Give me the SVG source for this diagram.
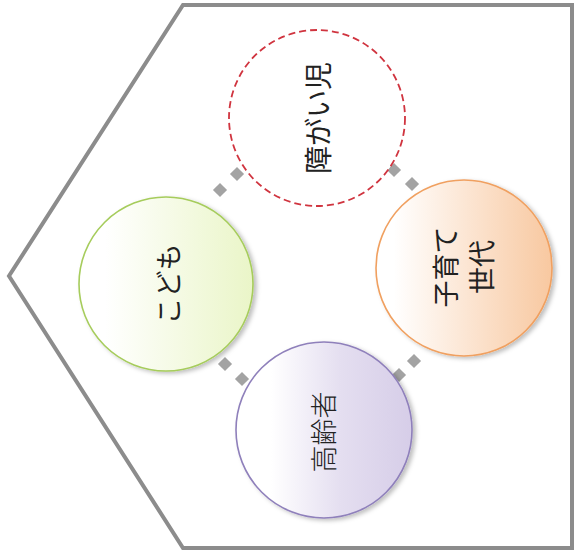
<svg xmlns="http://www.w3.org/2000/svg" width="577" height="556" viewBox="0 0 577 556">
<style>
  .lbl { font-family: "Noto Sans CJK JP", "Noto Sans", sans-serif; fill: #222; text-anchor: middle; dominant-baseline: central; }
  .dot { fill: #a3a3a3; }
  .ring { stroke-width: 1.6; filter: url(#sh); }
</style>
<defs>
  <filter id="sh" x="-20%" y="-20%" width="140%" height="140%">
    <feDropShadow dx="3" dy="2" stdDeviation="2" flood-color="#000" flood-opacity="0.25"/>
  </filter>
  <linearGradient id="gGreen" x1="0" y1="0" x2="1" y2="0">
    <stop offset="0.15" stop-color="#ffffff"/>
    <stop offset="1" stop-color="#eaf5c8"/>
  </linearGradient>
  <linearGradient id="gOrange" x1="0" y1="0" x2="1" y2="0">
    <stop offset="0.1" stop-color="#ffffff"/>
    <stop offset="1" stop-color="#f8c8a0"/>
  </linearGradient>
  <linearGradient id="gPurple" x1="0" y1="0" x2="1" y2="0">
    <stop offset="0.2" stop-color="#ffffff"/>
    <stop offset="0.6" stop-color="#e4def0"/>
    <stop offset="1" stop-color="#d6cde8"/>
  </linearGradient>
</defs>
<rect width="577" height="556" fill="#ffffff"/>
<g id="frame">
  <polygon points="183,5 572,5 572,548 183,548 9,276" fill="#ffffff" stroke="#8c8c8c" stroke-width="4" stroke-linejoin="miter"/>
</g>
<g id="connectors">
  <rect class="dot" x="-5" y="-5" width="10" height="10" transform="translate(237,174) rotate(45)"/>
  <rect class="dot" x="-5" y="-5" width="10" height="10" transform="translate(220,190) rotate(45)"/>
  <rect class="dot" x="-5" y="-5" width="10" height="10" transform="translate(394,170) rotate(45)"/>
  <rect class="dot" x="-5" y="-5" width="10" height="10" transform="translate(412,184) rotate(45)"/>
  <rect class="dot" x="-5" y="-5" width="10" height="10" transform="translate(225,364) rotate(45)"/>
  <rect class="dot" x="-5" y="-5" width="10" height="10" transform="translate(242,379) rotate(45)"/>
  <rect class="dot" x="-5" y="-5" width="10" height="10" transform="translate(414,361) rotate(45)"/>
  <rect class="dot" x="-5" y="-5" width="10" height="10" transform="translate(399,375) rotate(45)"/>
</g>
<g id="node-shougaiji">
  <circle cx="317" cy="118" r="88" fill="#ffffff" stroke="#d0343f" stroke-width="1.8" stroke-dasharray="7,4"/>
  <text class="lbl" font-size="28" transform="translate(317,118) rotate(-90)">障がい児</text>
</g>
<g id="node-kodomo">
  <circle class="ring" cx="166" cy="284" r="87" fill="url(#gGreen)" stroke="#a6cc5c"/>
  <text class="lbl" font-size="27" transform="translate(167,284) rotate(-90)">こども</text>
</g>
<g id="node-kosodate">
  <circle class="ring" cx="464" cy="268" r="88" fill="url(#gOrange)" stroke="#f0a060"/>
  <text class="lbl" font-size="27" transform="translate(462,267) rotate(-90)"><tspan x="0" y="-18">子育て</tspan><tspan x="0" y="18">世代</tspan></text>
</g>
<g id="node-koureisha">
  <circle class="ring" cx="324" cy="430" r="88" fill="url(#gPurple)" stroke="#8f80bb"/>
  <text class="lbl" font-size="27" font-weight="300" transform="translate(322,432) rotate(-90)">高齢者</text>
</g>
</svg>
